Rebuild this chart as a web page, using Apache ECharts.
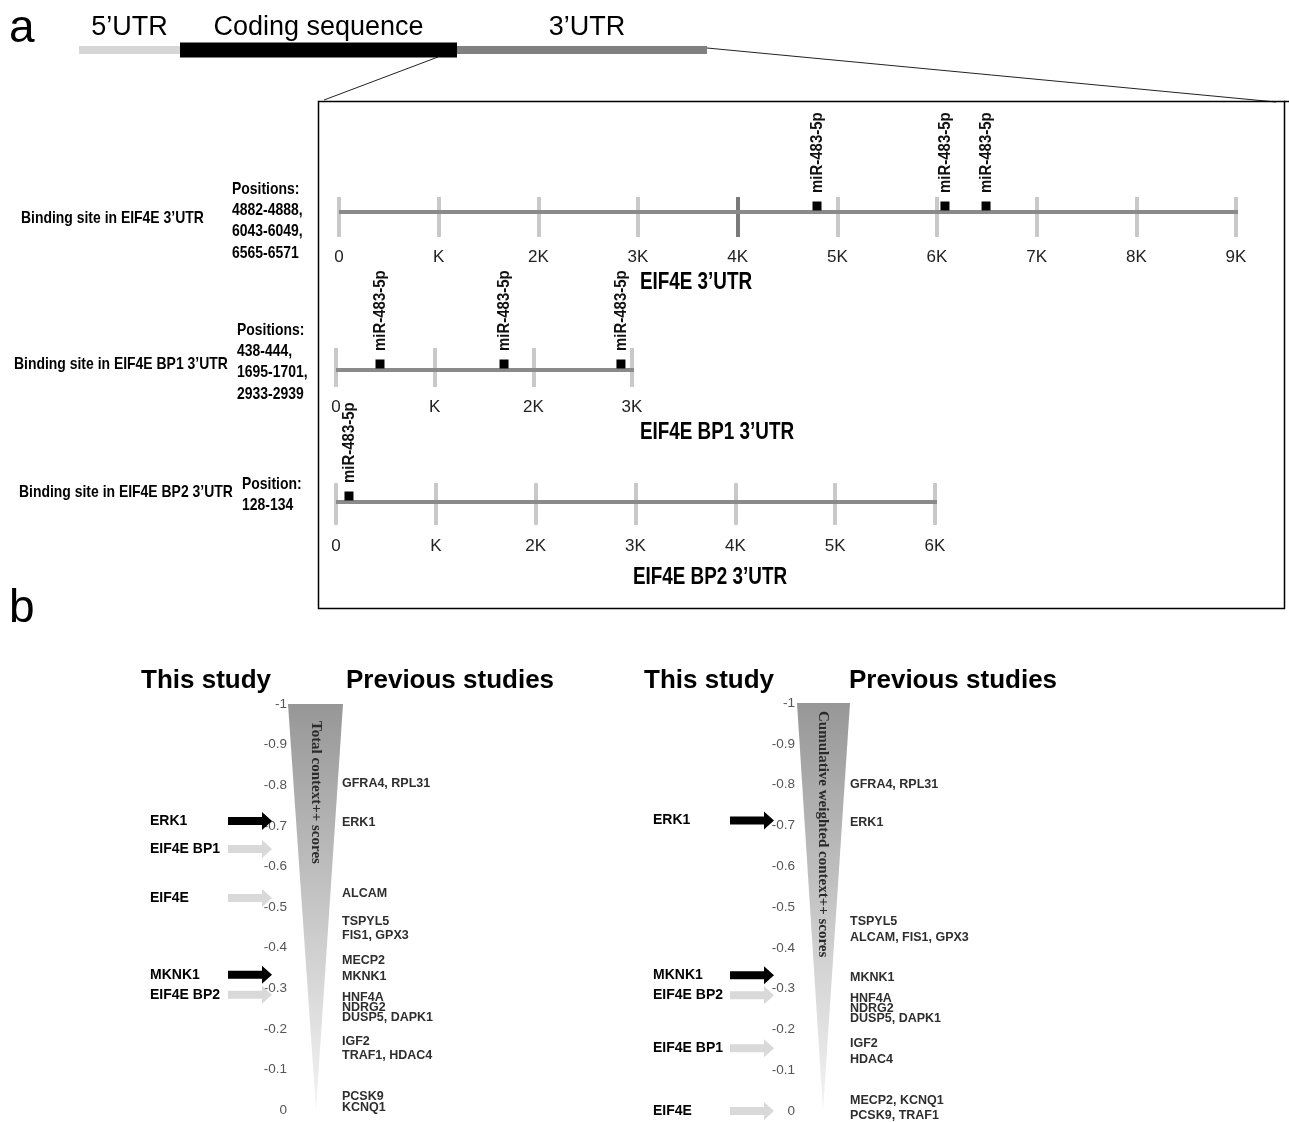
<!DOCTYPE html>
<html>
<head>
<meta charset="utf-8">
<script src="https://cdn.jsdelivr.net/npm/echarts@6/dist/echarts.min.js"></script>
<style>html,body{margin:0;padding:0;background:#fff}#c{width:1289px;height:1122px}</style>
</head>
<body>
<div id="c"></div>
<script>
// ---------- DATA ----------
// gene schematic (relative lengths)
const geneParts = ['5\u2019UTR', 'Coding sequence', '3\u2019UTR'];
const geneBounds = [0, 101, 378, 628];

// 3'UTR tracks
const utrNames = ['EIF4E 3\u2019UTR', 'EIF4E BP1 3\u2019UTR', 'EIF4E BP2 3\u2019UTR'];
const utrLengths = [9290, 3943, 6801];
const utrTickMax = [9000, 3000, 6000];
const tickLabels = ['0', 'K', '2K', '3K', '4K', '5K', '6K', '7K', '8K', '9K'];
const sitesEIF4E = [4796, 6080, 6492];
const sitesBP1 = [446, 1703, 2888];
const sitesBP2 = [130];
const mirName = 'miR-483-5p';
const bindingTitles = ['Binding site in EIF4E 3\u2019UTR', 'Binding site in EIF4E BP1 3\u2019UTR', 'Binding site in EIF4E BP2 3\u2019UTR'];
const positionTexts = [
  ['Positions:', '4882-4888,', '6043-6049,', '6565-6571'],
  ['Positions:', '438-444,', '1695-1701,', '2933-2939'],
  ['Position:', '128-134']
];

// panel b
const scoreRange = [-1, 0];
const headers = ['This study', 'Previous studies'];
const axisTitles = ['Total context++ scores', 'Cumulative weighted context++ scores'];

const studyGenesTotal = ['ERK1', 'EIF4E BP1', 'EIF4E', 'MKNK1', 'EIF4E BP2'];
const studyScoresTotal = [-0.712, -0.643, -0.522, -0.333, -0.284];
const studyKnownTotal = [true, false, false, true, false];
const prevGenesTotal = ['GFRA4, RPL31', 'ERK1', 'ALCAM', 'TSPYL5', 'FIS1, GPX3', 'MECP2', 'MKNK1', 'HNF4A', 'NDRG2', 'DUSP5, DAPK1', 'IGF2', 'TRAF1, HDAC4', 'PCSK9', 'KCNQ1'];
const prevScoresTotal = [-0.805, -0.708, -0.532, -0.464, -0.429, -0.367, -0.328, -0.277, -0.252, -0.228, -0.168, -0.133, -0.033, -0.006];

const studyGenesWeighted = ['ERK1', 'MKNK1', 'EIF4E BP2', 'EIF4E BP1', 'EIF4E'];
const studyScoresWeighted = [-0.712, -0.333, -0.284, -0.154, 0];
const studyKnownWeighted = [true, true, false, false, false];
const prevGenesWeighted = ['GFRA4, RPL31', 'ERK1', 'TSPYL5', 'ALCAM, FIS1, GPX3', 'MKNK1', 'HNF4A', 'NDRG2', 'DUSP5, DAPK1', 'IGF2', 'HDAC4', 'MECP2, KCNQ1', 'PCSK9, TRAF1'];
const prevScoresWeighted = [-0.801, -0.707, -0.464, -0.426, -0.328, -0.276, -0.252, -0.227, -0.166, -0.127, -0.025, 0.011];

// ---------- LAYOUT / STYLE ----------
const SANS = "'Liberation Sans', Arial, sans-serif";
const SERIF = "'Liberation Serif', 'Times New Roman', serif";
const CONDENSE = 0.82;

const chart = echarts.init(document.getElementById('c'));

const grids = [];
const xAxes = [];
const yAxes = [];
const series = [];
const graphics = [];

// gene schematic
grids.push({left: 79, top: 40, width: 628, height: 20, outerBoundsMode: 'none'});
xAxes.push({type: 'value', gridIndex: 0, min: 0, max: 628, show: false});
yAxes.push({type: 'value', gridIndex: 0, min: 0, max: 1, show: false});
const geneThick = [8, 15, 8];
const geneColor = ['#d6d6d6', '#000000', '#808080'];
series.push({
  type: 'custom', xAxisIndex: 0, yAxisIndex: 0, silent: true,
  data: geneParts.map((n, i) => [geneBounds[i], geneBounds[i + 1]]),
  renderItem: (params, api) => {
    const i = params.dataIndex;
    const s = api.coord([api.value(0), 0.5]);
    const e = api.coord([api.value(1), 0.5]);
    const h = geneThick[i];
    return {type: 'group', children: [
      {type: 'rect', shape: {x: s[0], y: s[1] - h / 2, width: e[0] - s[0], height: h}, style: {fill: geneColor[i]}},
      {type: 'text', x: (s[0] + e[0]) / 2 + (i === 2 ? 5 : 0), y: s[1] - 22,
       style: {text: geneParts[i], font: '27px ' + SANS, fill: '#000', align: 'center', verticalAlign: 'middle'}}
    ]};
  }
});

// UTR rows
const rowGrid = [
  {left: 339, top: 197, width: 897, height: 40},
  {left: 336, top: 348, width: 296, height: 39},
  {left: 336, top: 483, width: 599, height: 42}
];
const rowY = [[-1.25, 0.75], [-0.872, 1.128], [-1.095, 0.905]];
const rowMargin = [12, 12, 13];
const TICK = '#c9c9c9';
const rowTickColors = [
  [TICK, TICK, TICK, TICK, '#7a7a7a', TICK, TICK, TICK, TICK, TICK],
  [TICK], [TICK]
];
const rowSites = [sitesEIF4E, sitesBP1, sitesBP2];
rowGrid.forEach((g, r) => {
  const gi = grids.length;
  grids.push(Object.assign({outerBoundsMode: 'none'}, g));
  xAxes.push({
    type: 'value', gridIndex: gi, min: 0, max: utrTickMax[r], interval: 1000,
    axisLine: {show: false}, axisTick: {show: false},
    splitLine: {show: true, lineStyle: {color: rowTickColors[r], width: 4}},
    axisLabel: {margin: rowMargin[r], color: '#222', fontSize: 17, fontFamily: SANS,
      formatter: v => tickLabels[Math.round(v / 1000)]}
  });
  yAxes.push({type: 'value', gridIndex: gi, min: rowY[r][0], max: rowY[r][1], show: false});
  series.push({
    type: 'line', xAxisIndex: gi, yAxisIndex: gi, silent: true, clip: false,
    symbol: 'none', lineStyle: {color: '#8a8a8a', width: 4}, z: 3,
    data: [[0, 0], [utrLengths[r], 0]]
  });
  series.push({
    type: 'custom', xAxisIndex: gi, yAxisIndex: gi, silent: true, clip: false, z: 5,
    data: rowSites[r].map(v => [v, 0]),
    renderItem: (params, api) => {
      const pt = api.coord([api.value(0), api.value(1)]);
      return {type: 'group', children: [
        {type: 'rect', shape: {x: pt[0] - 4.5, y: pt[1] - 10.5, width: 9, height: 9}, style: {fill: '#000'}},
        {type: 'text', x: pt[0], y: pt[1] - 19, rotation: Math.PI / 2, scaleX: 0.88,
         style: {text: mirName, font: 'bold 17px ' + SANS, fill: '#111', align: 'left', verticalAlign: 'middle'}}
      ]};
    }
  });
});

// panel b
const panels = [
  {grid: {left: 140, top: 704, width: 460, height: 406}, axisOffset: -148, tri: [148, 203, 176], textOff: 17,
   arrowX: 110, studyX: 10, prevX: 202, title: axisTitles[0],
   sg: studyGenesTotal, ss: studyScoresTotal, sk: studyKnownTotal, pg: prevGenesTotal, ps: prevScoresTotal},
  {grid: {left: 643, top: 703, width: 460, height: 408}, axisOffset: -153, tri: [154, 207, 180], textOff: 8,
   arrowX: 109, studyX: 10, prevX: 207, title: axisTitles[1],
   sg: studyGenesWeighted, ss: studyScoresWeighted, sk: studyKnownWeighted, pg: prevGenesWeighted, ps: prevScoresWeighted}
];
const ARROW = 'path://M0,5L34,5L34,0L44,9L34,18L34,13L0,13Z';
panels.forEach(p => {
  const gi = grids.length;
  grids.push(Object.assign({outerBoundsMode: 'none'}, p.grid));
  xAxes.push({type: 'value', gridIndex: gi, min: 0, max: 460, show: false});
  yAxes.push({type: 'value', gridIndex: gi, min: scoreRange[0], max: scoreRange[1], interval: 0.1,
    inverse: true, position: 'left', offset: p.axisOffset,
    axisLine: {show: false}, axisTick: {show: false}, splitLine: {show: false},
    axisLabel: {margin: 1, color: '#555', fontSize: 13.5, fontFamily: SANS}});
  series.push({
    type: 'custom', xAxisIndex: gi, yAxisIndex: gi, silent: true, z: 1,
    data: [[scoreRange[0], scoreRange[1]]],
    renderItem: (params, api) => {
      const a = api.coord([p.tri[0], api.value(0)]);
      const b = api.coord([p.tri[1], api.value(0)]);
      const c = api.coord([p.tri[2], api.value(1)]);
      return {type: 'group', children: [
        {type: 'polygon', shape: {points: [a, b, c]},
         style: {fill: new echarts.graphic.LinearGradient(0, 0, 0, 1, [
           {offset: 0, color: '#979797'}, {offset: 0.5, color: '#c6c6c6'}, {offset: 1, color: '#f4f4f4'}])}},
        {type: 'text', x: c[0], y: a[1] + p.textOff, rotation: -Math.PI / 2,
         style: {text: p.title, font: 'bold 15px ' + SERIF, fill: '#2a2a2a', align: 'left', verticalAlign: 'middle'}}
      ]};
    }
  });
  series.push({
    type: 'scatter', xAxisIndex: gi, yAxisIndex: gi, silent: true, clip: false, z: 4,
    symbol: ARROW, symbolSize: [44, 18], itemStyle: {opacity: 1},
    data: p.ss.map((v, i) => ({value: [p.arrowX, v], itemStyle: {color: p.sk[i] ? '#000' : '#d9d9d9', opacity: 1}}))
  });
  series.push({
    type: 'scatter', xAxisIndex: gi, yAxisIndex: gi, silent: true, clip: false, z: 4,
    symbolSize: 0, itemStyle: {opacity: 1}, data: p.ss.map(v => [p.studyX, v]),
    label: {show: true, position: 'right', distance: 0, formatter: q => p.sg[q.dataIndex],
      fontSize: 14, fontWeight: 'bold', fontFamily: SANS, color: '#000', opacity: 1}
  });
  series.push({
    type: 'scatter', xAxisIndex: gi, yAxisIndex: gi, silent: true, clip: false, z: 4,
    symbolSize: 0, itemStyle: {opacity: 1}, data: p.ps.map(v => [p.prevX, v]),
    label: {show: true, position: 'right', distance: 0, formatter: q => p.pg[q.dataIndex],
      fontSize: 12.5, fontWeight: 'bold', fontFamily: SANS, color: '#2e2e2e', opacity: 1}
  });
});

// ---------- decorative text / frame ----------
function txt(text, x, y, font, align, sx) {
  graphics.push({type: 'text', x: x, y: y + 2, scaleX: sx || 1, silent: true,
    style: {text: text, font: font, fill: '#000', align: align || 'left', verticalAlign: 'middle'}});
}
txt('a', 9, 27, '46px ' + SANS);
txt('b', 9, 607, '46px ' + SANS);
graphics.push({type: 'line', shape: {x1: 438, y1: 57, x2: 324, y2: 100}, style: {stroke: '#222', lineWidth: 1}});
graphics.push({type: 'line', shape: {x1: 707, y1: 48, x2: 1276, y2: 102}, style: {stroke: '#222', lineWidth: 1}});
graphics.push({type: 'rect', shape: {x: 318.5, y: 101.5, width: 966, height: 507}, style: {fill: 'none', stroke: '#000', lineWidth: 1.5}});
graphics.push({type: 'line', shape: {x1: 1284, y1: 101.5, x2: 1289, y2: 101.5}, style: {stroke: '#000', lineWidth: 1.5}});

const titleCenters = [[696, 281], [717, 431], [710, 576]];
utrNames.forEach((n, i) => txt(n, titleCenters[i][0], titleCenters[i][1], 'bold 23px ' + SANS, 'center', CONDENSE));
const bindPos = [[21, 216], [14, 362], [19, 490]];
bindingTitles.forEach((t, i) => txt(t, bindPos[i][0], bindPos[i][1], 'bold 17px ' + SANS, 'left', CONDENSE));
const posStart = [[232, 187, 21.3], [237, 328, 21.3], [242, 482, 21]];
positionTexts.forEach((lines, i) => lines.forEach((l, j) =>
  txt(l, posStart[i][0], posStart[i][1] + j * posStart[i][2], 'bold 17px ' + SANS, 'left', CONDENSE)));

txt(headers[0], 141, 679, 'bold 26px ' + SANS);
txt(headers[1], 346, 679, 'bold 26px ' + SANS);
txt(headers[0], 644, 679, 'bold 26px ' + SANS);
txt(headers[1], 849, 679, 'bold 26px ' + SANS);

chart.setOption({
  animation: false,
  backgroundColor: '#fff',
  grid: grids,
  xAxis: xAxes,
  yAxis: yAxes,
  series: series,
  graphic: {elements: graphics}
});
</script>
</body>
</html>
